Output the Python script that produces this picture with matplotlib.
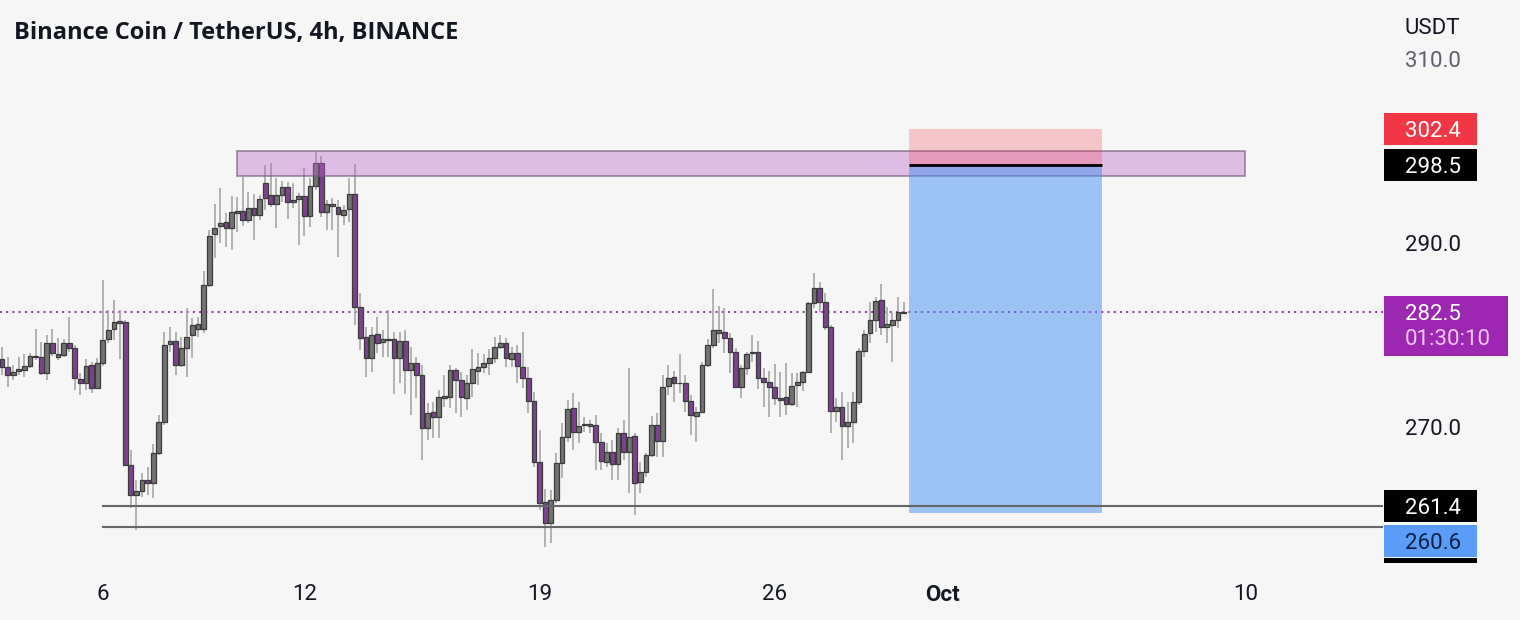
import numpy as np
import pandas as pd
import matplotlib
matplotlib.use("Agg")
import matplotlib.pyplot as plt
import matplotlib.dates as mdates
from matplotlib.patches import Rectangle

plt.rcParams['font.family'] = ['Roboto', 'DejaVu Sans']

# ---------------- data ----------------
title = "Binance Coin / TetherUS, 4h, BINANCE"
first_candle = "2022-09-03 00:00"

opens = [277.4, 276.5, 275.6, 276.1, 276.2, 276.6, 277.6, 277.6, 275.8, 279.1,
         277.6, 277.8, 279.1, 278.6, 275.2, 274.7, 276.7, 274.2, 276.9, 279.5,
         280.6, 281.3, 281.4, 265.8, 262.6, 263.0, 264.2, 263.9, 267.1, 270.5,
         279.0, 279.3, 276.7, 278.6, 280.0, 280.6, 280.6, 285.4, 291.0, 291.9,
         292.3, 291.6, 293.3, 293.5, 292.5, 293.8, 293.0, 296.5, 295.2, 294.3,
         295.2, 296.1, 294.5, 294.8, 295.1, 292.9, 296.2, 298.7, 293.4, 294.0,
         293.9, 293.1, 293.7, 295.3, 283.0, 279.8, 277.5, 280.1, 279.2, 279.5,
         279.5, 277.5, 279.3, 276.2, 276.9, 275.6, 269.9, 271.6, 271.0, 273.1,
         273.2, 276.2, 275.1, 273.1, 274.7, 276.1, 276.5, 276.9, 277.5, 278.7,
         279.1, 277.4, 278.0, 276.5, 275.3, 272.8, 266.1, 261.8, 259.5, 262.0,
         266.0, 268.9, 272.0, 269.4, 270.2, 270.1, 270.2, 268.3, 266.1, 267.2,
         265.9, 269.3, 267.2, 269.0, 264.0, 265.1, 266.9, 270.2, 268.4, 274.4,
         275.4, 274.7, 274.7, 272.8, 271.2, 271.6, 276.7, 278.9, 280.2, 280.3,
         279.7, 278.1, 274.3, 276.4, 278.0, 278.1, 275.3, 274.9, 274.3, 273.1,
         273.2, 272.5, 274.5, 274.9, 276.0, 283.5, 285.1, 283.6, 280.9, 271.7,
         272.1, 270.1, 270.5, 272.7, 278.2, 280.2, 281.6, 283.8, 280.8, 281.1,
         281.6, 282.4]
highs = [278.7, 277.6, 276.7, 277.6, 277.9, 278.0, 280.6, 279.2, 280.0, 280.6,
         279.7, 279.5, 281.9, 278.9, 275.8, 277.4, 277.0, 277.5, 286.0, 282.7,
         283.8, 282.7, 281.6, 267.5, 264.2, 264.9, 265.6, 268.1, 271.3, 280.3,
         280.9, 280.3, 279.8, 282.9, 281.8, 281.9, 287.0, 291.4, 294.3, 296.0,
         293.3, 295.1, 295.0, 297.2, 295.6, 295.3, 295.2, 298.5, 298.7, 297.1,
         296.7, 296.6, 296.5, 295.5, 298.2, 297.1, 299.9, 299.5, 294.7, 294.9,
         294.7, 294.1, 297.1, 298.6, 284.6, 280.9, 280.9, 281.9, 280.5, 282.7,
         280.3, 280.3, 280.5, 278.7, 277.6, 276.7, 272.6, 272.7, 274.0, 275.6,
         276.7, 276.4, 275.9, 275.6, 278.4, 278.0, 277.9, 278.4, 279.8, 280.0,
         279.7, 278.7, 278.9, 280.3, 276.5, 273.8, 269.6, 263.2, 263.1, 267.1,
         270.4, 272.9, 273.7, 272.7, 271.0, 270.7, 271.3, 269.3, 268.2, 268.5,
         269.9, 270.7, 276.4, 269.3, 266.1, 267.1, 271.1, 271.5, 275.6, 276.7,
         276.1, 277.9, 275.6, 273.4, 272.1, 277.0, 279.5, 285.0, 283.1, 282.9,
         280.2, 278.6, 276.7, 278.1, 280.0, 279.3, 276.4, 276.1, 276.8, 276.0,
         276.9, 275.8, 275.8, 276.1, 283.6, 286.7, 285.8, 284.6, 281.1, 273.1,
         273.8, 272.7, 273.8, 278.6, 280.5, 283.6, 284.1, 285.5, 283.0, 282.4,
         284.1, 283.6]
lows = [275.6, 274.3, 275.1, 275.6, 275.4, 276.4, 277.3, 275.6, 275.1, 277.7,
        277.3, 277.6, 278.1, 274.0, 273.4, 274.0, 273.7, 274.1, 276.6, 279.1,
        279.4, 277.4, 265.7, 261.1, 258.7, 262.3, 262.6, 262.2, 266.9, 270.2,
        278.1, 275.6, 276.5, 275.4, 277.5, 279.8, 280.2, 285.2, 288.4, 290.0,
        289.6, 289.2, 291.2, 291.9, 292.2, 290.3, 292.5, 293.6, 293.9, 291.6,
        294.5, 292.6, 293.8, 289.8, 290.8, 291.7, 295.8, 292.8, 291.4, 291.4,
        288.5, 292.0, 292.3, 281.1, 278.3, 275.4, 276.0, 278.0, 277.6, 277.6,
        273.5, 274.8, 273.5, 271.3, 273.1, 266.4, 268.5, 268.8, 268.8, 272.1,
        272.0, 271.5, 271.0, 271.8, 273.2, 274.5, 275.8, 275.6, 276.9, 278.4,
        276.5, 276.5, 274.7, 274.2, 271.5, 265.6, 260.9, 256.9, 257.3, 261.7,
        264.4, 268.3, 267.5, 268.2, 269.4, 269.3, 265.3, 265.3, 265.6, 264.2,
        264.2, 266.4, 262.8, 260.4, 262.8, 264.5, 266.7, 266.7, 266.7, 273.4,
        272.7, 273.7, 271.6, 269.1, 268.3, 271.5, 276.5, 278.6, 279.1, 278.0,
        275.8, 274.2, 273.1, 275.6, 277.0, 274.1, 272.1, 271.0, 272.4, 271.0,
        271.3, 272.2, 272.1, 273.9, 275.8, 282.9, 282.5, 280.5, 269.3, 270.5,
        266.4, 267.7, 268.2, 272.4, 277.6, 279.1, 280.3, 280.0, 279.1, 277.0,
        280.7, 282.4]
closes = [276.5, 275.6, 276.0, 276.3, 276.6, 277.7, 277.7, 275.8, 279.1, 278.0,
          277.9, 279.1, 278.6, 275.3, 274.7, 276.6, 274.2, 276.9, 279.4, 280.5,
          281.4, 281.5, 265.8, 262.6, 263.0, 264.2, 263.9, 267.1, 270.5, 278.9,
          279.3, 276.7, 278.6, 279.8, 281.1, 281.2, 285.4, 290.8, 291.6, 292.2,
          291.6, 293.4, 293.5, 292.5, 293.8, 293.0, 294.8, 294.9, 294.3, 295.2,
          296.1, 294.5, 294.7, 295.1, 292.9, 296.2, 298.7, 293.4, 294.3, 294.3,
          293.2, 293.6, 295.3, 283.0, 279.7, 277.5, 280.0, 279.1, 279.5, 279.4,
          277.5, 279.3, 276.2, 276.9, 275.6, 269.9, 271.5, 271.0, 273.2, 273.3,
          276.2, 275.1, 273.2, 274.7, 276.3, 276.5, 276.9, 277.5, 278.7, 279.1,
          277.5, 278.0, 276.6, 275.3, 272.8, 266.1, 261.7, 259.5, 262.0, 266.0,
          268.9, 271.9, 269.4, 270.1, 270.3, 270.3, 268.3, 266.3, 267.2, 265.9,
          269.3, 267.2, 268.9, 263.9, 265.1, 266.9, 270.2, 268.4, 274.3, 275.3,
          274.7, 274.8, 272.8, 271.3, 271.6, 276.7, 278.9, 280.5, 280.5, 279.7,
          278.1, 274.3, 276.4, 277.9, 278.1, 275.3, 274.9, 274.3, 273.1, 272.9,
          272.5, 274.4, 274.9, 276.0, 283.5, 285.1, 283.6, 280.9, 271.7, 272.1,
          270.1, 270.5, 272.7, 278.2, 280.1, 281.6, 283.7, 280.9, 281.2, 281.6,
          282.5, 282.5]

# drawings
zone_low, zone_high = 297.3, 300.0
zone_start, zone_end = "2022-09-10 00:00", "2022-10-10 00:00"
entry_price, stop_price, target_price = 298.5, 302.4, 260.6
position_start, position_end = "2022-09-30 00:00", "2022-10-05 18:00"
support_levels = [261.4, 259.1]
support_start = "2022-09-06 00:00"
last_price = 282.5
countdown = "01:30:10"
y_ticks = [310.0, 290.0, 270.0]
x_tick_dates = ["2022-09-06", "2022-09-12", "2022-09-19", "2022-09-26", "2022-10-01", "2022-10-10"]
x_tick_labels = ["6", "12", "19", "26", "Oct", "10"]

# ---------------- style ----------------
BG = "#f6f6f6"
TXT = "#131722"
BEAR = "#7e4190"
BULL = "#737373"
EDGE = "#3b3b3b"
WICK = "#a6a6a6"

W, H = 1520, 620
plot_right, plot_bottom = 1383, 563

fig = plt.figure(figsize=(W / 100, H / 100), dpi=100, facecolor=BG)
ax = fig.add_axes([0, 1 - plot_bottom / H, plot_right / W, plot_bottom / H])
ax.set_facecolor(BG)

dates = pd.date_range(first_candle, periods=len(closes), freq="4h")
x = mdates.date2num(dates.to_pydatetime())
o, h, l, c = map(np.array, (opens, highs, lows, closes))
up = c >= o
bar_w = 0.145

ax.vlines(x, l, h, color=WICK, lw=1.2, zorder=2)
ax.bar(x[up], (c - o)[up], bottom=o[up], width=bar_w, color=BULL,
       edgecolor=EDGE, linewidth=0.9, zorder=3)
ax.bar(x[~up], (c - o)[~up], bottom=o[~up], width=bar_w, color=BEAR,
       edgecolor=EDGE, linewidth=0.9, zorder=3)

def dnum(s):
    return mdates.date2num(pd.Timestamp(s).to_pydatetime())

x_left = dnum("2022-09-02 22:34")
x_right = dnum("2022-10-14 02:24")
ax.set_xlim(x_left, x_right)
ax.set_ylim(255.14, 316.47)

# last price dotted line
ax.axhline(last_price, color="#9c27b0", lw=1.4, linestyle=(0, (1, 2.2)), zorder=1)

# supply zone
zs, ze = dnum(zone_start), dnum(zone_end)
ax.add_patch(Rectangle((zs, zone_low), ze - zs, zone_high - zone_low,
                       facecolor=(0.74, 0.40, 0.78, 0.40),
                       edgecolor=(0.45, 0.36, 0.48, 0.65), lw=1.3, zorder=4))

# short position
ps, pe = dnum(position_start), dnum(position_end)
ax.add_patch(Rectangle((ps, entry_price), pe - ps, stop_price - entry_price,
                       facecolor="#f23645", alpha=0.25, lw=0, zorder=5))
ax.add_patch(Rectangle((ps, target_price), pe - ps, entry_price - target_price,
                       facecolor="#4690f4", alpha=0.5, lw=0, zorder=5))
ax.plot([ps, pe], [entry_price, entry_price], color="black", lw=2.0, zorder=6,
        solid_capstyle="butt")

# support rays
ss = dnum(support_start)
for lv in support_levels:
    ax.plot([ss, x_right], [lv, lv], color="#666666", lw=1.5, zorder=6)

for s in ax.spines.values():
    s.set_visible(False)

# y ticks on the right
ax.yaxis.tick_right()
ax.set_yticks(y_ticks)
ax.set_yticklabels([f"{v:.1f}" for v in y_ticks])
ax.tick_params(axis="y", length=0, pad=15.8, labelsize=16, labelcolor=TXT)
ax.get_yticklabels()[0].set_color("#5d606b")

# x ticks
ax.set_xticks([dnum(d) for d in x_tick_dates])
ax.set_xticklabels(x_tick_labels)
ax.tick_params(axis="x", length=0, pad=15, labelsize=16, labelcolor=TXT)
for t in ax.get_xticklabels():
    if t.get_text() == "Oct":
        t.set_fontweight("bold")

# ---------- price scale labels ----------
ax2 = fig.add_axes([plot_right / W, 1 - plot_bottom / H, (W - plot_right) / W, plot_bottom / H])
ax2.set_xlim(0, W - plot_right)
ax2.set_ylim(ax.get_ylim())
ax2.axis("off")
ppx = (316.47 - 255.14) / plot_bottom  # price units per pixel

def price_tag(value, text, face, fg, shift_px=0.0, height_px=32, width_px=93,
              sub=None, sub_color=None, top_px=None):
    center = value + shift_px * ppx
    if sub is None:
        bottom = center - height_px / 2 * ppx
        ax2.add_patch(Rectangle((1, bottom), width_px, height_px * ppx,
                                facecolor=face, lw=0, zorder=3))
        ax2.text(22, center, text, color=fg, fontsize=16, va="center_baseline",
                 ha="left", zorder=4, clip_on=True)
    else:
        top = value + top_px * ppx
        ax2.add_patch(Rectangle((1, top - height_px * ppx), width_px, height_px * ppx,
                                facecolor=face, lw=0, zorder=3))
        ax2.text(22, value, text, color=fg, fontsize=16, va="center_baseline",
                 ha="left", zorder=4, clip_on=True)
        ax2.text(22, value - 25 * ppx, sub, color=sub_color, fontsize=16,
                 va="center_baseline", ha="left", zorder=4, clip_on=True)

price_tag(stop_price, f"{stop_price:.1f}", "#f23645", "white")
price_tag(entry_price, f"{entry_price:.1f}", "black", "white")
price_tag(last_price, f"{last_price:.1f}", "#9c27b0", "white", height_px=60,
          width_px=124, sub=countdown, sub_color="#f3c4f6", top_px=16)
price_tag(support_levels[0], f"{support_levels[0]:.1f}", "black", "white")
price_tag(support_levels[1], f"{support_levels[1]:.1f}", "black", "white", shift_px=-47)
price_tag(target_price, f"{target_price:.1f}", "#5b9cf6", "#0c1f4a", shift_px=-28)

fig.text(1405 / W, 1 - 28 / H, "USDT", fontsize=16, color=TXT, va="center", ha="left")
fig.text(14 / W, 1 - 33 / H, title, fontsize=17, fontweight="bold", color=TXT,
         va="center", ha="left", family=["Open Sans", "DejaVu Sans"])

fig.savefig("out.png", dpi=100, facecolor=BG)
